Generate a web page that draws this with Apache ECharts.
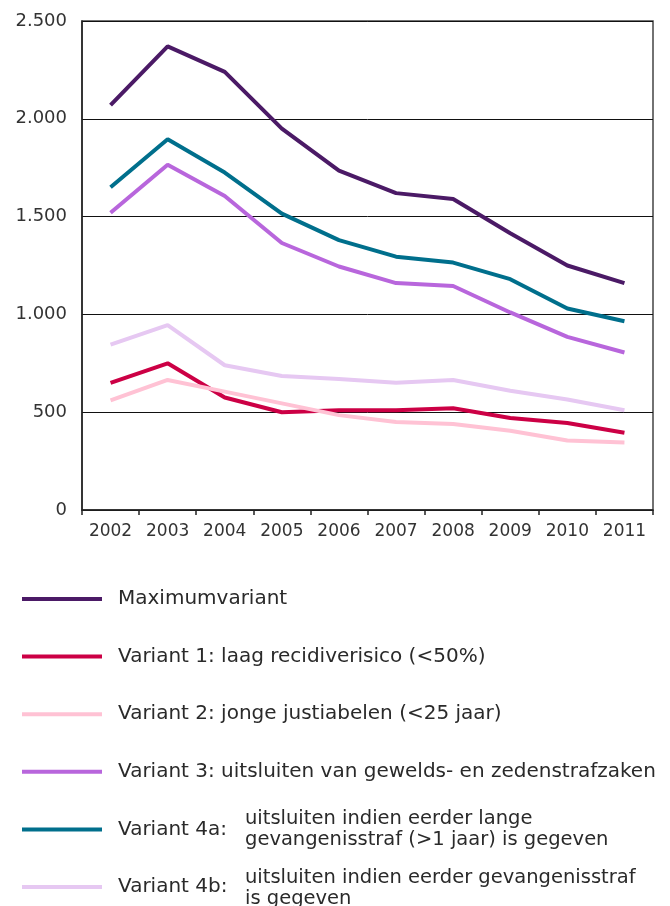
<!DOCTYPE html>
<html>
<head>
<meta charset="utf-8">
<script src="https://cdn.jsdelivr.net/npm/echarts@6/dist/echarts.min.js"></script>
<style>
  html, body { margin: 0; padding: 0; background: #fff; }
  #chart_box { width: 670px; height: 906px; }
</style>
</head>
<body>
<div id="chart_box"></div>
<script>
// jaren op de x-as
var years = ['2002', '2003', '2004', '2005', '2006', '2007', '2008', '2009', '2010', '2011'];
// labels y-as (stap 500)
var yTickLabels = ['0', '500', '1.000', '1.500', '2.000', '2.500'];

// reeksen
var maximumvariant = [2070, 2370, 2240, 1950, 1735, 1620, 1590, 1415, 1250, 1160];
var variant1 = [650, 750, 575, 500, 510, 510, 520, 470, 445, 395];
var variant2 = [560, 665, 605, 545, 485, 450, 440, 405, 355, 345];
var variant3 = [1520, 1765, 1605, 1365, 1245, 1160, 1145, 1010, 885, 805];
var variant4a = [1650, 1895, 1725, 1515, 1380, 1295, 1265, 1180, 1030, 965];
var variant4b = [845, 945, 740, 685, 670, 650, 665, 610, 565, 510];

var seriesNames = ['Maximumvariant', 'Variant 1: laag recidiverisico (<50%)', 'Variant 2: jonge justiabelen (<25 jaar)',
  'Variant 3: uitsluiten van gewelds- en zedenstrafzaken', 'Variant 4a:', 'Variant 4b:'];
var seriesData = [maximumvariant, variant1, variant2, variant3, variant4a, variant4b];
var seriesColor = ['#4b1a66', '#cc0045', '#ffc2d4', '#b866dc', '#006f8c', '#e6c8f2'];
// extra uitleg bij 4a en 4b
var note4a = 'uitsluiten indien eerder lange\ngevangenisstraf (>1 jaar) is gegeven';
var note4b = 'uitsluiten indien eerder gevangenisstraf\nis gegeven';

var myEcharts = echarts.init(document.getElementById('chart_box'));

var seriesList = [];
for (var i = 0; i < seriesNames.length; i++) {
  seriesList.push({
    name: seriesNames[i],
    type: 'line',
    symbol: 'none',
    smooth: false,
    lineStyle: { width: 4, color: seriesColor[i] },
    itemStyle: { color: seriesColor[i] },
    data: seriesData[i]
  });
}

var legendFont = 'DejaVu Sans';

var option = {
  animation: false,
  backgroundColor: '#fff',
  textStyle: { fontFamily: 'DejaVu Sans' },
  grid: {
    left: 82,
    right: 17,
    top: 21,
    bottom: 396,
    show: true,
    borderColor: '#444',
    borderWidth: 1.5
  },
  legend: {
    orient: 'vertical',
    left: 22,
    top: 589,
    bottom: 0,
    padding: 0,
    icon: 'rect',
    itemWidth: 80,
    itemHeight: 4,
    itemGap: 37.6,
    selectedMode: false,
    textStyle: {
      fontFamily: legendFont,
      fontSize: 20,
      lineHeight: 20,
      color: '#2a2a2a',
      padding: [0, 0, 0, 11]
    },
    data: seriesNames
  },
  graphic: [
    {
      type: 'text', left: 245, top: 808,
      style: { text: note4a, font: '19.5px "DejaVu Sans"', lineHeight: 21, fill: '#2a2a2a' }
    },
    {
      type: 'text', left: 245, top: 867,
      style: { text: note4b, font: '19.5px "DejaVu Sans"', lineHeight: 21, fill: '#2a2a2a' }
    }
  ],
  xAxis: {
    type: 'category',
    boundaryGap: true,
    data: years,
    axisLine: { show: true, lineStyle: { color: '#222', width: 1.5 } },
    axisTick: { show: true, length: 5, lineStyle: { color: '#222', width: 1.5 } },
    axisLabel: { color: '#333', fontSize: 17, margin: 13, interval: 0, hideOverlap: false },
    splitLine: { show: false }
  },
  yAxis: {
    type: 'value',
    min: 0,
    max: 2500,
    interval: 500,
    axisLine: { show: true, lineStyle: { color: '#222', width: 1.5 } },
    axisTick: { show: false },
    axisLabel: {
      color: '#333',
      fontSize: 18,
      margin: 15,
      formatter: function (v) { return yTickLabels[Math.round(v / 500)]; }
    },
    splitLine: { show: true, lineStyle: { color: '#111', width: 1 } }
  },
  series: seriesList
};

myEcharts.setOption(option);
</script>
</body>
</html>
